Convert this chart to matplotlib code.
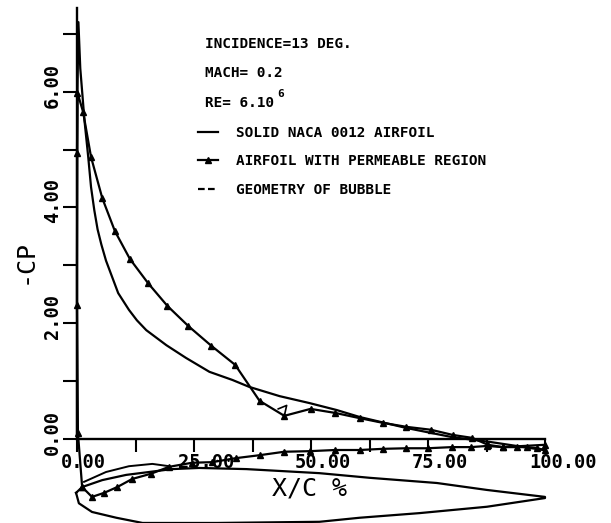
import matplotlib
matplotlib.use("Agg")
import matplotlib.pyplot as plt
from matplotlib.lines import Line2D
from matplotlib.transforms import ScaledTranslation

# upper surface, solid NACA 0012
solid_x = [0.0, 0.0, 0.1, 0.3, 0.7, 1.6, 2.4, 3.0, 3.7, 4.4, 5.2, 6.2, 7.5, 8.8, 11.1, 12.8, 14.8, 19.1, 23.3, 28.3, 33.2,
           36.8, 43.3, 49.7, 55.5, 60.4, 70.4, 80.3, 88.2, 99.6]
solid_cp = [0.1, 3.0, 6.0, 7.2, 6.4, 5.5, 4.87, 4.35, 3.95, 3.62, 3.36, 3.08, 2.80, 2.52, 2.23, 2.05, 1.88, 1.62, 1.40, 1.16, 1.02,
            0.90, 0.74, 0.62, 0.50, 0.38, 0.19, 0.03, -0.05, -0.19]

# permeable airfoil, suction side
perm_x = [1.1, 0.2, 0.0, 0.0, 0.1, 1.3, 3.0, 5.4, 8.1, 11.3, 15.2, 19.3, 23.8, 28.7, 33.8, 39.0, 44.3,
          49.9, 55.2, 60.4, 65.3, 70.4, 75.6, 80.3, 84.4, 87.8, 91.0, 94.0, 96.1, 98.3, 100.0]
perm_cp = [-0.83, 0.10, 2.31, 4.94, 5.98, 5.65, 4.87, 4.16, 3.59, 3.11, 2.69, 2.30, 1.95, 1.61, 1.28, 0.66, 0.40,
           0.52, 0.45, 0.36, 0.28, 0.21, 0.16, 0.07, 0.02, -0.10, -0.14, -0.14, -0.14, -0.16, -0.19]

# permeable airfoil, pressure side
lower_x = [1.1, 3.2, 5.8, 8.6, 11.8, 15.8, 19.7, 24.6, 28.9, 34.0, 39.0, 44.3, 49.7, 55.2, 60.4, 65.3,
           70.4, 74.9, 80.1, 84.2, 87.6, 91.0, 100.0]
lower_cp = [-0.83, -1.00, -0.93, -0.83, -0.69, -0.60, -0.48, -0.41, -0.40, -0.33, -0.28, -0.22, -0.21, -0.19,
            -0.19, -0.17, -0.16, -0.16, -0.14, -0.14, -0.12, -0.14, -0.10]

# short stub near the bubble end
stub_x = [43.0, 44.8, 44.3]
stub_cp = [0.52, 0.58, 0.40]

# airfoil outline
foil_x = [-0.2, 1.1, 5.4, 10.5, 15.4, 20.3, 26.1, 36.2, 51.8, 62.5, 76.9, 87.6, 100.0, 100.0, 87.6, 73.2,
          60.4, 51.8, 30.0, 14.0, 8.4, 3.2, 0.4, -0.2]
foil_y = [-0.93, -0.83, -0.71, -0.62, -0.57, -0.52, -0.50, -0.52, -0.59, -0.67, -0.76, -0.88, -1.00, -1.02, -1.17,
          -1.28, -1.36, -1.43, -1.45, -1.45, -1.36, -1.26, -1.11, -0.93]

bubble_x = [1.5, 6.2, 11.1, 16.1, 19.7]
bubble_y = [-0.74, -0.57, -0.47, -0.43, -0.47]

xticks = [0, 25, 50, 75, 100]
xtick_labels = ["0.00", "25.00", "50.00", "75.00", "100.00"]
xminor = [12.5, 37.5, 62.5, 87.5]
yticks = [0, 2, 4, 6]
ytick_labels = ["0.00", "2.00", "4.00", "6.00"]
yminor = [1, 3, 5, 7]

mono = "DejaVu Sans Mono"
W, H = 611, 523
fig = plt.figure(figsize=(W / 100, H / 100), dpi=100)
ax = fig.add_axes([77 / W, 1 - 439 / H, 468 / W, 431 / H])
ax.set_xlim(0, 100)
ax.set_ylim(0, 431 / 57.9)

lw = 1.6
ax.plot(solid_x, solid_cp, color="black", lw=lw, clip_on=False)
ax.plot(perm_x, perm_cp, color="black", lw=lw, marker="^", ms=5, clip_on=False)
ax.plot(lower_x, lower_cp, color="black", lw=lw, marker="^", ms=4, clip_on=False)
ax.plot(stub_x, stub_cp, color="black", lw=1.2, clip_on=False)
ax.plot(foil_x, foil_y, color="black", lw=lw, clip_on=False)
ax.plot(bubble_x, bubble_y, color="black", lw=1.4, clip_on=False)

for s in ["top", "right"]:
    ax.spines[s].set_visible(False)
for s in ["left", "bottom"]:
    ax.spines[s].set_linewidth(1.7)

ax.set_xticks(xticks, xtick_labels)
ax.set_xticks(xminor, minor=True)
ax.set_yticks(yticks, ytick_labels)
ax.set_yticks(yminor, minor=True)
ax.tick_params(axis="x", which="both", length=9.4, width=1.5, pad=0.5)
ax.tick_params(axis="y", which="both", length=10, width=1.5, pad=1)

shift_x = ScaledTranslation(-16 / 100, 0, fig.dpi_scale_trans)
for lab in ax.get_xticklabels():
    lab.set_fontfamily(mono)
    lab.set_fontsize(13.5)
    lab.set_fontweight("bold")
    lab.set_ha("left")
    lab.set_transform(lab.get_transform() + shift_x)
shift_y = ScaledTranslation(0, -16 / 100, fig.dpi_scale_trans)
for lab in ax.get_yticklabels():
    lab.set_fontfamily(mono)
    lab.set_fontsize(13.5)
    lab.set_fontweight("bold")
    lab.set_rotation(90)
    lab.set_va("bottom")
    lab.set_transform(lab.get_transform() + shift_y)

fig.text(309 / W, 1 - 488 / H, "X/C %", family=mono, fontsize=18, ha="center", va="center")
fig.text(25 / W, 1 - 262 / H, "-CP", family=mono, fontsize=18, rotation=90, ha="center", va="center")

info = ["INCIDENCE=13 DEG.", "MACH= 0.2", "RE= 6.10"]
info_y = [44, 73, 103]
for t, y in zip(info, info_y):
    fig.text(205 / W, 1 - y / H, t, family=mono, weight="bold", fontsize=10.4, va="center")
fig.text(281 / W, 1 - 94 / H, "6", family=mono, weight="bold", fontsize=8, ha="center", va="center")

handles = [
    Line2D([], [], color="black", lw=lw),
    Line2D([], [], color="black", lw=lw, marker="^", ms=5),
    Line2D([], [], color="black", lw=lw, ls=(0, (3, 1.5))),
]
labels = ["SOLID NACA 0012 AIRFOIL", "AIRFOIL WITH PERMEABLE REGION", "GEOMETRY OF BUBBLE"]
fig.legend(handles, labels, loc="upper left", bbox_to_anchor=(198 / W, 1 - 126 / H), frameon=False,
           prop={"family": mono, "weight": "bold", "size": 10.4}, labelspacing=1.0,
           handlelength=1.4, handletextpad=1.2, borderpad=0, borderaxespad=0)

fig.savefig("out.png", dpi=100)
